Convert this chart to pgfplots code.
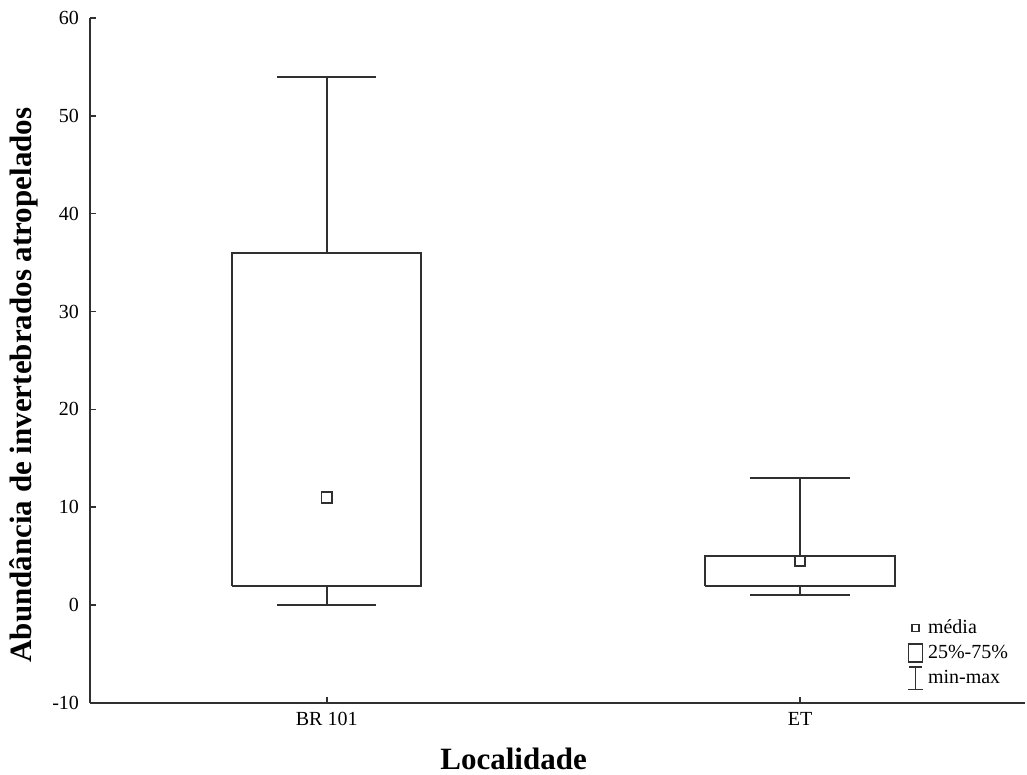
\documentclass[border=0pt]{standalone}
\usepackage{fontspec}
\setmainfont{Liberation Serif}
\usepackage{pgfplots}
\pgfplotsset{compat=1.18}
\usetikzlibrary{calc}
\definecolor{ln}{HTML}{303030}
\begin{document}
\begin{tikzpicture}
\begin{axis}[
  name=ax,
  scale only axis,
  width=467.5pt, height=342.5pt,
  xmin=-0.5, xmax=1.475,
  ymin=-10, ymax=60,
  ytick={-10,0,10,20,30,40,50,60},
  xtick={0,1}, xticklabels={BR 101, ET},
  axis lines*=left,
  axis line style={ln, line width=1pt},
  tick style={ln, line width=0.8pt},
  tick align=inside,
  major tick length=3pt,
  unbounded coords=jump,
  /pgf/number format/assume math mode=true,
  ticklabel style={font=\fontsize{10}{12}\selectfont},
  yticklabel style={xshift=-2pt},
  xticklabel style={yshift=-1pt},
  xlabel={\textbf{Localidade}},
  ylabel={\textbf{Abundância de invertebrados atropelados}},
  label style={font=\fontsize{15.5}{18}\selectfont},
  xlabel style={at={(axis description cs:0.453,0)}, anchor=base, yshift=-33.5pt},
  ylabel style={at={(axis description cs:-0.0625,0.464)}, anchor=base},
  legend style={draw=none, fill=none, at={(axis description cs:0.872,0.128)}, anchor=north west,
    font=\fontsize{10}{12}\selectfont, row sep=0pt, inner sep=0pt,
    /tikz/every even column/.append style={column sep=1pt},
    legend cell align=left},
]
% boxes (25%-75%)
\addplot[ln, line width=1pt, line join=miter, forget plot] coordinates {(-0.2,2) (0.2,2) (0.2,36) (-0.2,36) (-0.2,2)};
\addplot[ln, line width=1pt, line join=miter, forget plot] coordinates {(0.8,2) (1.2,2) (1.2,5) (0.8,5) (0.8,2)};
% whiskers (min-max)
\addplot[ln, line width=1pt, forget plot] coordinates {(0,36) (0,54) (nan,nan) (-0.105,54) (0.105,54) (nan,nan) (0,2) (0,0) (nan,nan) (-0.105,0) (0.105,0)};
\addplot[ln, line width=1pt, forget plot] coordinates {(1,5) (1,13) (nan,nan) (0.895,13) (1.105,13) (nan,nan) (1,2) (1,1) (nan,nan) (0.895,1) (1.105,1)};
% means
\addplot[only marks, mark=square, mark size=2.6pt, ln, line width=0.9pt, forget plot]
  coordinates {(0,11) (1,4.5)};
\addlegendimage{legend image code/.code={\path[draw=none,fill=none] (0pt,-6.25pt) rectangle (9pt,6.25pt); \draw[ln, line width=0.7pt] (3.2pt,-1.8pt) rectangle (6.6pt,1.8pt);}}
\addlegendentry{média}
\addlegendimage{legend image code/.code={\path[draw=none,fill=none] (0pt,-6.25pt) rectangle (9pt,6.25pt); \draw[ln, line width=0.7pt] (1.5pt,-4.5pt) rectangle (8.5pt,4.5pt);}}
\addlegendentry{25\%-75\%}
\addlegendimage{legend image code/.code={\path[draw=none,fill=none] (0pt,-6.25pt) rectangle (9pt,6.25pt); \draw[ln, line width=0.7pt] (1.8pt,5.5pt) -- (8.2pt,5.5pt) (5pt,5.5pt) -- (5pt,-5.8pt) (1.2pt,-5.8pt) -- (8.8pt,-5.8pt);}}
\addlegendentry{min-max}
\end{axis}
\pgfresetboundingbox
\path[use as bounding box] ($(ax.south west)+(-45pt,-36pt)$) rectangle ($(ax.north east)+(1pt,9pt)$);
\end{tikzpicture}
\end{document}
